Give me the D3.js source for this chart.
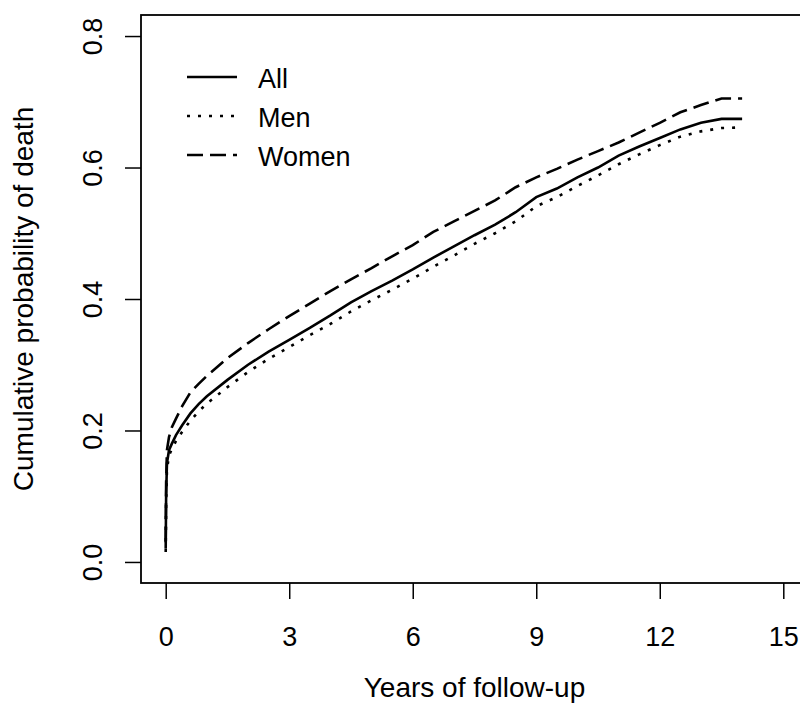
<!DOCTYPE html>
<html>
<head>
<meta charset="utf-8">
<script src="https://cdn.jsdelivr.net/npm/d3@7"></script>
<style>
  body { margin: 0; background: #fff; }
  svg text { font-family: "Liberation Sans", Arial, sans-serif; fill: #000; }
</style>
</head>
<body>
<div class="km-plot"></div>
<script>
// follow-up times (years) where the curves were read
var times = [0, 0.01, 0.03, 0.08, 0.15, 0.25, 0.4, 0.6, 0.8, 1.0, 1.5, 2, 2.5, 3, 3.5, 4, 4.5, 5, 5.5, 6,
    6.5, 7, 7.5, 8, 8.5, 9, 9.5, 10, 10.5, 11, 11.5, 12, 12.5, 13, 13.5, 14];

var allDeaths = [0.02, 0.10, 0.15, 0.170, 0.180, 0.193, 0.208, 0.226, 0.240, 0.252, 0.277, 0.300, 0.320, 0.338,
    0.356, 0.375, 0.395, 0.412, 0.428, 0.445, 0.463, 0.480, 0.497, 0.513, 0.532, 0.555, 0.568, 0.585,
    0.600, 0.618, 0.632, 0.645, 0.658, 0.668, 0.674, 0.674];

var menDeaths = [0.015, 0.09, 0.14, 0.162, 0.172, 0.184, 0.198, 0.215, 0.229, 0.241, 0.266, 0.289, 0.309, 0.327,
    0.345, 0.362, 0.381, 0.398, 0.414, 0.431, 0.449, 0.466, 0.484, 0.500, 0.518, 0.541, 0.555, 0.572,
    0.588, 0.605, 0.620, 0.634, 0.647, 0.655, 0.660, 0.661];

var womenDeaths = [0.03, 0.12, 0.17, 0.190, 0.205, 0.218, 0.237, 0.258, 0.271, 0.283, 0.310, 0.333, 0.354, 0.374,
    0.393, 0.412, 0.430, 0.447, 0.465, 0.482, 0.502, 0.518, 0.534, 0.550, 0.570, 0.585, 0.598, 0.612,
    0.625, 0.638, 0.653, 0.668, 0.684, 0.695, 0.705, 0.705];

var seriesNames = ["All", "Men", "Women"];
var xTicks = [0, 3, 6, 9, 12, 15];
var yTicks = [0.0, 0.2, 0.4, 0.6, 0.8];

const width = 800;
const height = 704;
const plotLeft = 141, plotRight = 808, plotTop = 15, plotBottom = 583;

const svg = d3.select('.km-plot')
    .append('svg')
    .attr('width', width)
    .attr('height', height);

const x = d3.scaleLinear().domain([-0.6, 15.6]).range([plotLeft, plotRight]);
const y = d3.scaleLinear().domain([-0.032, 0.832]).range([plotBottom, plotTop]);

const dashes = ["none", "3,8", "16,7"];
const seriesData = [allDeaths, menDeaths, womenDeaths];

// curves
const line = d3.line()
    .x(function (d) { return x(d[0]); })
    .y(function (d) { return y(d[1]); });

seriesData.forEach(function (vals, i) {
    svg.append("path")
        .datum(times.map(function (t, j) { return [t, vals[j]]; }))
        .attr("fill", "none")
        .attr("stroke", "#000")
        .attr("stroke-width", 2.6)
        .attr("stroke-dasharray", dashes[i])
        .attr("d", line);
});

// x axis
const xAxis = svg.append("g")
    .attr("transform", "translate(0," + plotBottom + ")")
    .call(d3.axisBottom(x).tickValues(xTicks).tickSize(16).tickSizeOuter(0).tickFormat(d3.format("d")));
xAxis.select(".domain").remove();
xAxis.selectAll("line").attr("stroke", "#000").attr("stroke-width", 1.5);
xAxis.selectAll("text")
    .attr("y", 63)
    .attr("dy", 0)
    .attr("font-size", "27px")
    .attr("font-family", "Liberation Sans, Arial, sans-serif");

// y axis
const yAxis = svg.append("g")
    .attr("transform", "translate(" + plotLeft + ",0)")
    .call(d3.axisLeft(y).tickValues(yTicks).tickSize(16).tickSizeOuter(0).tickFormat(d3.format(".1f")));
yAxis.select(".domain").remove();
yAxis.selectAll("line").attr("stroke", "#000").attr("stroke-width", 1.5);
yAxis.selectAll("text")
    .attr("transform", "rotate(-90)")
    .attr("x", 0)
    .attr("y", -39)
    .attr("dy", 0)
    .attr("text-anchor", "middle")
    .attr("font-size", "27px")
    .attr("font-family", "Liberation Sans, Arial, sans-serif");

// box
svg.append("rect")
    .attr("x", plotLeft)
    .attr("y", plotTop)
    .attr("width", plotRight - plotLeft)
    .attr("height", plotBottom - plotTop)
    .attr("fill", "none")
    .attr("stroke", "#000")
    .attr("stroke-width", 1.8);

// axis titles
svg.append("text")
    .attr("x", (plotLeft + plotRight) / 2)
    .attr("y", 697)
    .attr("text-anchor", "middle")
    .attr("font-size", "28px")
    .text("Years of follow-up");

svg.append("text")
    .attr("transform", "translate(33," + ((plotTop + plotBottom) / 2) + ") rotate(-90)")
    .attr("text-anchor", "middle")
    .attr("font-size", "28px")
    .text("Cumulative probability of death");

// legend
const legend = svg.append("g")
    .selectAll("g")
    .data(seriesNames)
    .enter()
    .append("g")
        .attr("transform", function (d, i) { return "translate(187," + (77 + i * 39) + ")"; });

legend.append("line")
    .attr("x1", 0)
    .attr("x2", 50)
    .attr("stroke", "#000")
    .attr("stroke-width", 2.6)
    .attr("stroke-dasharray", function (d, i) { return dashes[i]; });

legend.append("text")
    .attr("x", 71)
    .attr("y", 11)
    .attr("font-size", "27px")
    .text(function (d) { return d; });
</script>
</body>
</html>
